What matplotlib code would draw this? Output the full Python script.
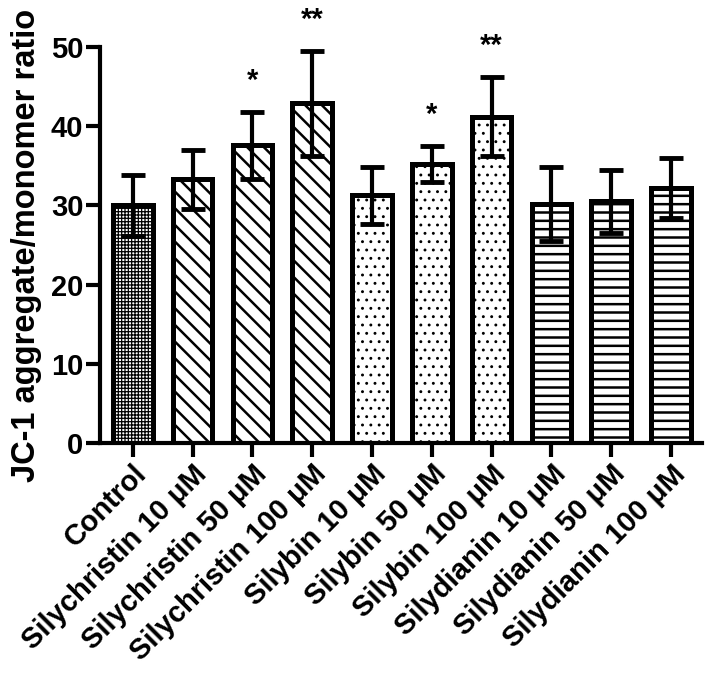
import matplotlib
matplotlib.use("Agg")
import matplotlib.pyplot as plt
import numpy as np

categories = ["Control", "Silychristin 10 \u03bcM", "Silychristin 50 \u03bcM", "Silychristin 100 \u03bcM",
              "Silybin 10 \u03bcM", "Silybin 50 \u03bcM", "Silybin 100 \u03bcM",
              "Silydianin 10 \u03bcM", "Silydianin 50 \u03bcM", "Silydianin 100 \u03bcM"]
means = [30.0, 33.3, 37.6, 42.9, 31.3, 35.2, 41.2, 30.2, 30.5, 32.2]
errors = [3.8, 3.7, 4.2, 6.6, 3.6, 2.3, 5.0, 4.7, 4.0, 3.8]
stars = ["", "", "*", "**", "", "*", "**", "", "", ""]
hatches = ["+++++", "\\\\", "\\\\", "\\\\", "..", "..", "..", "--", "--", "--"]
yticks = [0, 10, 20, 30, 40, 50]

plt.rcParams['font.family'] = ['Liberation Sans', 'DejaVu Sans']
plt.rcParams['font.weight'] = 'bold'
plt.rcParams['hatch.linewidth'] = 1.8

fig = plt.figure(figsize=(7.10, 6.82), dpi=100)
ax = fig.add_axes([0.1408, 0.3504, 0.848, 0.5806])

x = np.arange(len(categories))
bars = ax.bar(x, means, width=0.66, color="white", edgecolor="black", linewidth=3.6, zorder=2)
hatch_lw = {"+++++": 0.9, "..": 0.9}
for b, h in zip(bars, hatches):
    b.set_hatch(h)
    if h in hatch_lw and hasattr(b, "set_hatch_linewidth"):
        b.set_hatch_linewidth(hatch_lw[h])
ax.errorbar(x, means, yerr=errors, fmt="none", ecolor="black", elinewidth=3,
            capsize=8.5, capthick=3.5, zorder=3)
for xi, m, e, s in zip(x, means, errors, stars):
    if s:
        ax.text(xi, m + e + 2.2, s, ha="center", va="bottom", fontsize=21,
                fontweight="bold", clip_on=False)

ax.set_xlim(-0.55, 9.52)
ax.set_ylim(0, 50)
ax.set_yticks(yticks)
ax.set_yticklabels([str(t) for t in yticks], fontsize=21, fontweight="bold")
ax.set_xticks(x)
ax.set_xticklabels(categories, rotation=45, ha="right", rotation_mode="anchor",
                   fontsize=21, fontweight="bold")
ax.set_ylabel("JC-1 aggregate/monomer ratio", fontsize=23.5, fontweight="bold", labelpad=6)

for side in ["top", "right"]:
    ax.spines[side].set_visible(False)
for side in ["left", "bottom"]:
    ax.spines[side].set_linewidth(3)
ax.tick_params(axis="both", width=3, length=10, direction="out", pad=2)

fig.savefig("out.png", dpi=100)
